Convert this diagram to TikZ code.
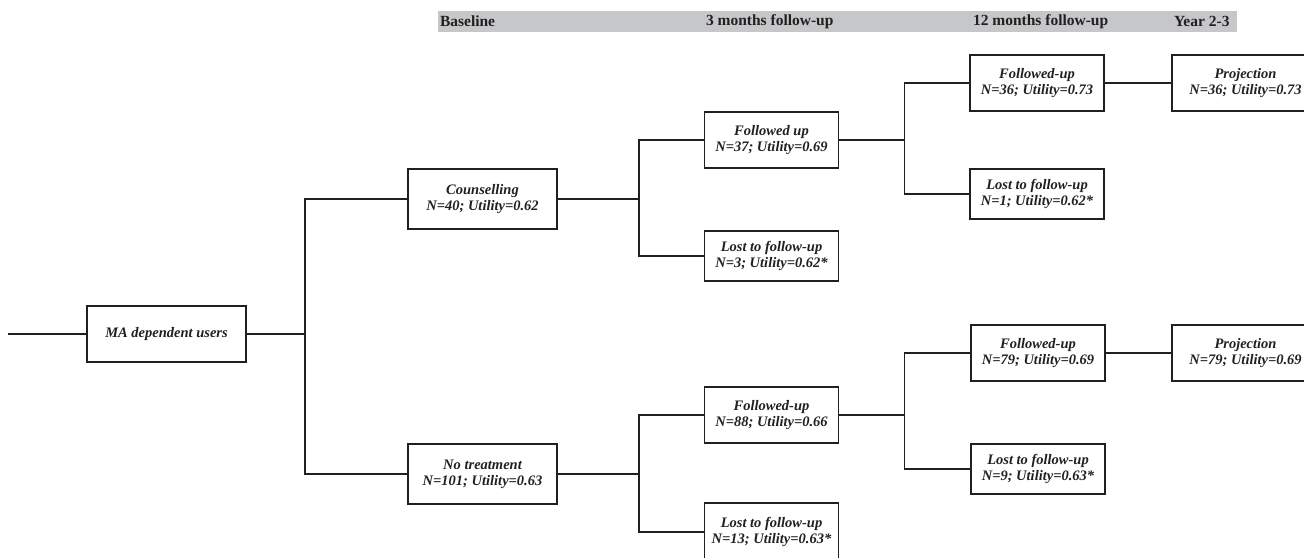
\documentclass[tikz,border=0pt]{standalone}
\usepackage{fontspec}
\setmainfont{Liberation Serif}
\usetikzlibrary{positioning}
\definecolor{linecol}{HTML}{231F20}
\definecolor{headgray}{HTML}{C6C7C9}

\begin{document}
\begin{tikzpicture}[
        x=1pt, y=-1pt,
        every node/.style = {align=center, text=linecol},
        box/.style   = {rectangle, draw=linecol, line width=1.8pt, fill=white,
                        inner sep=2pt, font=\bfseries\itshape\fontsize{14.5}{16}\selectfont},
        start/.style = {box, minimum width=159pt, minimum height=56pt},
        arm/.style   = {box, minimum width=149pt, minimum height=60pt},
        stage/.style = {box, minimum width=134pt, minimum height=56pt},
        lost/.style  = {box, minimum width=134pt, minimum height=50pt},
        proj/.style  = {box, minimum width=147pt, minimum height=56pt},
        bar/.style   = {rectangle, fill=headgray, minimum width=799pt,
                        minimum height=21pt, inner sep=0pt},
        head/.style  = {inner sep=0pt, font=\bfseries\fontsize{15.5}{18}\selectfont},
        link/.style  = {draw=linecol, line width=1.6pt}
    ]
    \useasboundingbox (0,0) rectangle (1304,557);

    % --- Time line along the top ---
    \node[bar] (bar) at (837.5,21.5) {};
    \node[head, right=2pt of bar.west]   (base)  {Baseline};
    \node[head, right=268pt of bar.west] (m3)    {3 months follow-up};
    \node[head, right=535pt of bar.west] (m12)   {12 months follow-up};
    \node[head, right=736pt of bar.west] (y23)   {Year 2-3};

    % --- Decision tree ---
    \coordinate (root) at (8,334);
    \node[start] (ma)      at (166.5,334) {MA dependent users};
    \node[arm]   (couns)   at (482.5,199) {Counselling\\N=40; Utility=0.62};
    \node[arm]   (notreat) at (482.5,474) {No treatment\\N=101; Utility=0.63};

    \node[stage] (fu1)   at (771.5,140) {Followed up\\N=37; Utility=0.69};
    \node[lost]  (lost1) at (771.5,256) {Lost to follow-up\\N=3; Utility=0.62*};
    \node[stage] (fu2)   at (771.5,415) {Followed-up\\N=88; Utility=0.66};
    \node[lost, minimum height=58pt] (lost2) at (771.5,532) {Lost to follow-up\\N=13; Utility=0.63*};

    \node[stage] (fu3)   at (1037,83)  {Followed-up\\N=36; Utility=0.73};
    \node[lost]  (lost3) at (1037,194) {Lost to follow-up\\N=1; Utility=0.62*};
    \node[stage] (fu4)   at (1038,353) {Followed-up\\N=79; Utility=0.69};
    \node[lost]  (lost4) at (1038,469) {Lost to follow-up\\N=9; Utility=0.63*};

    \node[proj]  (proj1) at (1245.5,83)  {Projection\\N=36; Utility=0.73};
    \node[proj]  (proj2) at (1245.5,353) {Projection\\N=79; Utility=0.69};

    % --- Branches ---
    \draw[link] (root) -- (ma);
    \draw[link] (ma.east) -- ++(58,0) |- (couns);
    \draw[link] (ma.east) -- ++(58,0) |- (notreat);
    \draw[link] (couns.east) -- ++(81,0) |- (fu1);
    \draw[link] (couns.east) -- ++(81,0) |- (lost1);
    \draw[link] (notreat.east) -- ++(81,0) |- (fu2);
    \draw[link] (notreat.east) -- ++(81,0) |- (lost2);
    \draw[link] (fu1.east) -- ++(65,0) |- (fu3);
    \draw[link] (fu1.east) -- ++(65,0) |- (lost3);
    \draw[link] (fu2.east) -- ++(65,0) |- (fu4);
    \draw[link] (fu2.east) -- ++(65,0) |- (lost4);
    \draw[link] (fu3) -- (proj1);
    \draw[link] (fu4) -- (proj2);

    \end{tikzpicture}
\end{document}
